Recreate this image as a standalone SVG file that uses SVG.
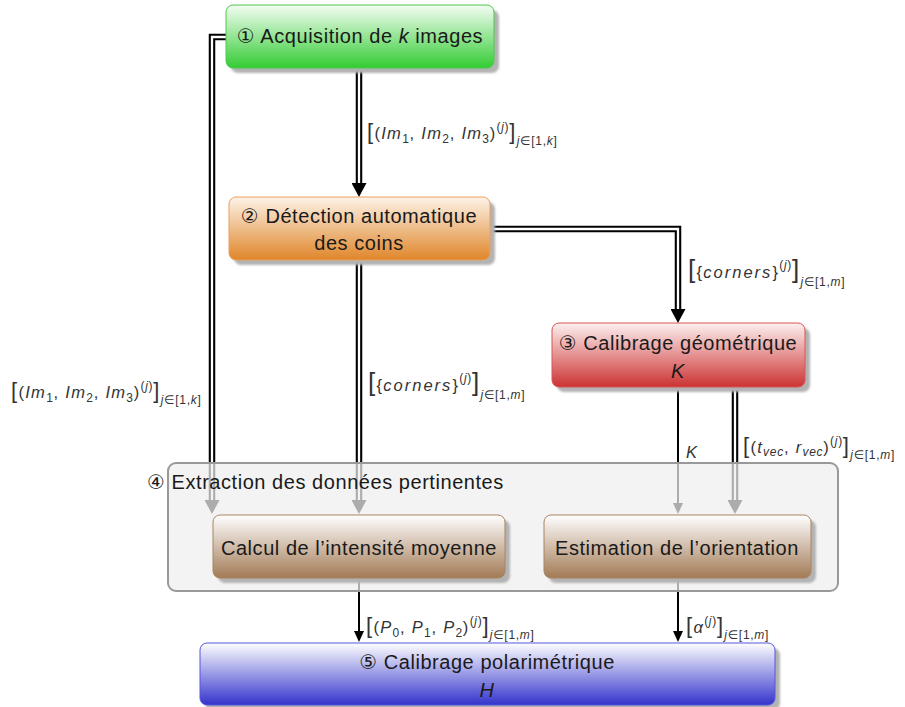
<svg xmlns="http://www.w3.org/2000/svg" width="905" height="707" viewBox="0 0 905 707">
<style>
.t{font-family:"Liberation Sans","DejaVu Sans",sans-serif;font-size:20px;letter-spacing:0.55px;fill:#1a1a1a;text-anchor:middle}
.m{font-family:"Liberation Sans","DejaVu Sans",sans-serif;font-size:16.5px;letter-spacing:1.3px;fill:#333}
.i{font-style:italic}
.s{font-size:12px;letter-spacing:0.7px}
.br{font-size:22px}
.bb{font-size:26px}
.dbl{fill:none;stroke:#000;stroke-width:6.5}
.dblw{fill:none;stroke:#fff;stroke-width:2.3}
.sgl{fill:none;stroke:#000;stroke-width:2}
.shadow{fill:#b3b3b3;filter:url(#blur)}
</style>
<defs>
<filter id="blur" x="-10%" y="-10%" width="120%" height="130%"><feGaussianBlur stdDeviation="1.2"/></filter>
<linearGradient id="gGreen" x1="0" y1="0" x2="0" y2="1"><stop offset="0" stop-color="#f4fdf4"/><stop offset="1" stop-color="#33cc33"/></linearGradient>
<linearGradient id="gOrange" x1="0" y1="0" x2="0" y2="1"><stop offset="0" stop-color="#fdf3e8"/><stop offset="1" stop-color="#e0862a"/></linearGradient>
<linearGradient id="gRed" x1="0" y1="0" x2="0" y2="1"><stop offset="0" stop-color="#fdf0f0"/><stop offset="1" stop-color="#cc3333"/></linearGradient>
<linearGradient id="gBrown" x1="0" y1="0" x2="0" y2="1"><stop offset="0" stop-color="#ffffff"/><stop offset="1" stop-color="#a27a55"/></linearGradient>
<linearGradient id="gBlue" x1="0" y1="0" x2="0" y2="1"><stop offset="0" stop-color="#ffffff"/><stop offset="1" stop-color="#3333cc"/></linearGradient>
<marker id="aD" markerUnits="userSpaceOnUse" markerWidth="14" markerHeight="15" viewBox="0 0 14 15" refX="0" refY="7.5" orient="auto"><path d="M0,0 L14,7.5 L0,15 z" fill="#000"/></marker>
<marker id="aS" markerUnits="userSpaceOnUse" markerWidth="11" markerHeight="10" viewBox="0 0 11 10" refX="0" refY="5" orient="auto"><path d="M0,0 L11,5 L0,10 z" fill="#000"/></marker>
</defs>

<g id="connectors">
<path class="dbl" d="M359,68 V183" marker-end="url(#aD)"/>
<path class="dblw" d="M359,68 V183"/>
<path class="dbl" d="M226,37 H212 V500" marker-end="url(#aD)"/>
<path class="dblw" d="M226,37 H212 V500"/>
<path class="dbl" d="M490,229 H678 V309" marker-end="url(#aD)"/>
<path class="dblw" d="M490,229 H678 V309"/>
<path class="dbl" d="M359,260 V500" marker-end="url(#aD)"/>
<path class="dblw" d="M359,260 V500"/>
<path class="sgl" d="M678,387 V503" marker-end="url(#aS)"/>
<path class="dbl" d="M735,387 V500" marker-end="url(#aD)"/>
<path class="dblw" d="M735,387 V500"/>
<path class="sgl" d="M359,578 V631" marker-end="url(#aS)"/>
<path class="sgl" d="M678,578 V631" marker-end="url(#aS)"/>
<text class="m" x="367" y="139"><tspan class="br">[</tspan>(<tspan class="i">Im</tspan><tspan class="s" dy="4">1</tspan><tspan dy="-4">, </tspan><tspan class="i">Im</tspan><tspan class="s" dy="4">2</tspan><tspan dy="-4">, </tspan><tspan class="i">Im</tspan><tspan class="s" dy="4">3</tspan><tspan dy="-4">)</tspan><tspan class="s" dy="-8">(<tspan class="i">j</tspan>)</tspan><tspan class="br" dy="8">]</tspan><tspan class="s" dy="6"><tspan class="i">j</tspan>∈[1,<tspan class="i">k</tspan>]</tspan></text>
<text class="m" x="11" y="398"><tspan class="br">[</tspan>(<tspan class="i">Im</tspan><tspan class="s" dy="4">1</tspan><tspan dy="-4">, </tspan><tspan class="i">Im</tspan><tspan class="s" dy="4">2</tspan><tspan dy="-4">, </tspan><tspan class="i">Im</tspan><tspan class="s" dy="4">3</tspan><tspan dy="-4">)</tspan><tspan class="s" dy="-8">(<tspan class="i">j</tspan>)</tspan><tspan class="br" dy="8">]</tspan><tspan class="s" dy="6"><tspan class="i">j</tspan>∈[1,<tspan class="i">k</tspan>]</tspan></text>
<text class="m" x="688" y="278"><tspan class="bb">[</tspan>{<tspan class="i" letter-spacing="2">corners</tspan>}<tspan class="s" dy="-9">(<tspan class="i">j</tspan>)</tspan><tspan class="bb" dy="9">]</tspan><tspan class="s" dy="8"><tspan class="i">j</tspan>∈[1,<tspan class="i">m</tspan>]</tspan></text>
<text class="m" x="368" y="391"><tspan class="bb">[</tspan>{<tspan class="i" letter-spacing="2">corners</tspan>}<tspan class="s" dy="-9">(<tspan class="i">j</tspan>)</tspan><tspan class="bb" dy="9">]</tspan><tspan class="s" dy="8"><tspan class="i">j</tspan>∈[1,<tspan class="i">m</tspan>]</tspan></text>
<text class="m i" x="686" y="458">K</text>
<text class="m" x="743" y="453"><tspan class="br">[</tspan>(<tspan class="i">t</tspan><tspan class="s i" dy="3">vec</tspan><tspan dy="-3">, </tspan><tspan class="i">r</tspan><tspan class="s i" dy="3">vec</tspan><tspan dy="-3">)</tspan><tspan class="s" dy="-8">(<tspan class="i">j</tspan>)</tspan><tspan class="br" dy="8">]</tspan><tspan class="s" dy="6"><tspan class="i">j</tspan>∈[1,<tspan class="i">m</tspan>]</tspan></text>
<text class="m" x="366" y="633"><tspan class="br">[</tspan>(<tspan class="i">P</tspan><tspan class="s" dy="4">0</tspan><tspan dy="-4">, </tspan><tspan class="i">P</tspan><tspan class="s" dy="4">1</tspan><tspan dy="-4">, </tspan><tspan class="i">P</tspan><tspan class="s" dy="4">2</tspan><tspan dy="-4">)</tspan><tspan class="s" dy="-8">(<tspan class="i">j</tspan>)</tspan><tspan class="br" dy="8">]</tspan><tspan class="s" dy="6"><tspan class="i">j</tspan>∈[1,<tspan class="i">m</tspan>]</tspan></text>
<text class="m" x="686" y="633"><tspan class="br">[</tspan><tspan class="i">α</tspan><tspan class="s" dy="-8">(<tspan class="i">j</tspan>)</tspan><tspan class="br" dy="8">]</tspan><tspan class="s" dy="6"><tspan class="i">j</tspan>∈[1,<tspan class="i">m</tspan>]</tspan></text>
</g>

<g id="n1">
<rect class="shadow" x="231" y="10" width="268" height="63" rx="7"/>
<rect x="226" y="5" width="268" height="63" rx="7" fill="url(#gGreen)" stroke="#4fc94f" stroke-width="1"/>
<text class="t" x="360" y="43">① Acquisition de <tspan class="i">k</tspan> images</text>
</g>

<g id="n2">
<rect class="shadow" x="234" y="202" width="261" height="63" rx="7"/>
<rect x="229" y="197" width="261" height="63" rx="7" fill="url(#gOrange)" stroke="#e8a060" stroke-width="1"/>
<text class="t" x="359" y="223">② Détection automatique</text>
<text class="t" x="359" y="250">des coins</text>
</g>

<g id="n3">
<rect class="shadow" x="557" y="328" width="253" height="64" rx="7"/>
<rect x="552" y="323" width="253" height="64" rx="7" fill="url(#gRed)" stroke="#d85555" stroke-width="1"/>
<text class="t" x="678" y="350">③ Calibrage géométrique</text>
<text class="t i" x="678" y="378">K</text>
</g>

<g id="n4">
<rect x="168" y="463" width="670" height="128" rx="8" fill="#eeeeee" fill-opacity="0.72" stroke="#999" stroke-width="2"/>
<text class="t" x="147" y="489" style="text-anchor:start">④ Extraction des données pertinentes</text>
</g>

<g id="n4a">
<rect class="shadow" x="218" y="520" width="292" height="63" rx="7"/>
<rect x="213" y="515" width="292" height="63" rx="7" fill="url(#gBrown)" stroke="#a88462" stroke-width="1"/>
<text class="t" x="359" y="555">Calcul de l’intensité moyenne</text>
</g>

<g id="n4b">
<rect class="shadow" x="549" y="520" width="267" height="63" rx="7"/>
<rect x="544" y="515" width="267" height="63" rx="7" fill="url(#gBrown)" stroke="#a88462" stroke-width="1"/>
<text class="t" x="677" y="555">Estimation de l’orientation</text>
</g>

<g id="n5">
<rect class="shadow" x="205" y="648" width="575" height="62" rx="7"/>
<rect x="200" y="643" width="575" height="62" rx="7" fill="url(#gBlue)" stroke="#5555dd" stroke-width="1"/>
<text class="t" x="487" y="669">⑤ Calibrage polarimétrique</text>
<text class="t i" x="487" y="697">H</text>
</g>
</svg>
